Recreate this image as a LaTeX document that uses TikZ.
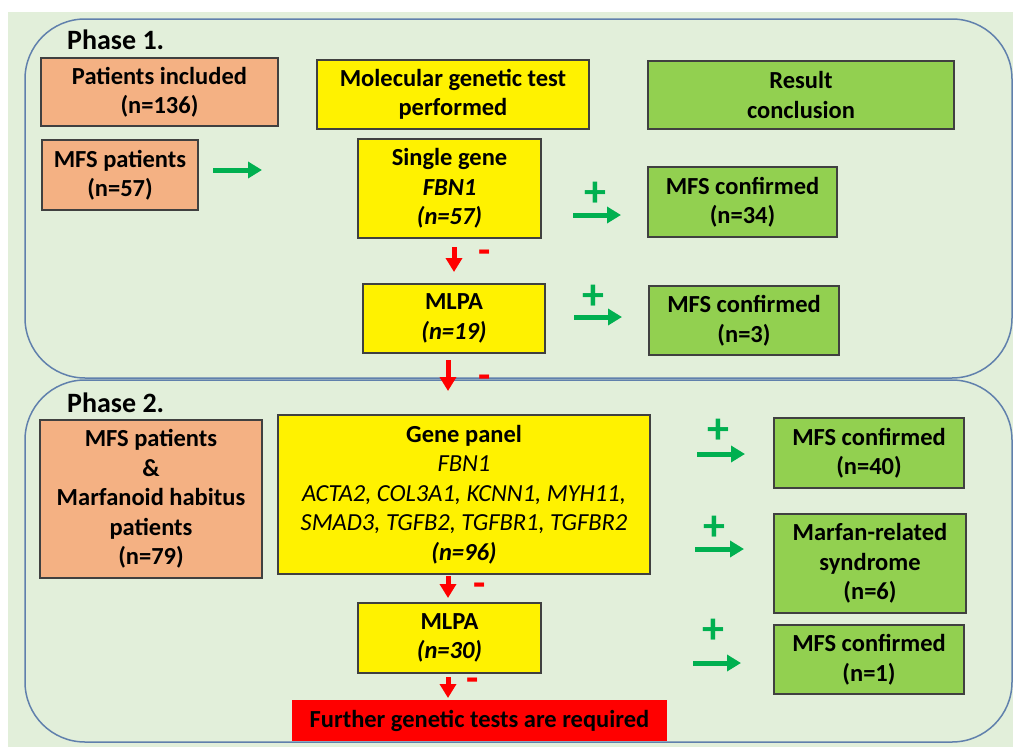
\documentclass[tikz,border=0pt]{standalone}
\usepackage{fontspec}
\setmainfont{Carlito}
\usetikzlibrary{arrows.meta}
\definecolor{panelbg}{RGB}{226,239,218}
\definecolor{phaseline}{RGB}{96,128,172}
\definecolor{salmon}{RGB}{244,177,131}
\definecolor{leaf}{RGB}{146,208,80}
\definecolor{plusgreen}{RGB}{0,176,80}

\begin{document}
\begin{tikzpicture}[x=1pt,y=-1pt,
    box/.style={draw=black!75,line width=1.2pt,align=center,inner sep=0pt,
        font=\fontsize{24.5}{29.5}\selectfont\bfseries},
    patbox/.style={box,fill=salmon},
    testbox/.style={box,fill=yellow},
    resbox/.style={box,fill=leaf},
    phase/.style={phaseline,line width=1.5pt,rounded corners=60pt},
    phaselabel/.style={anchor=base west,inner sep=0pt,font=\fontsize{28}{30}\selectfont\bfseries},
    plusarrow/.style={plusgreen,line width=5pt,-{Triangle[length=14pt,width=16pt]}},
    minusarrow/.style={red,line width=5pt,-{Triangle[length=14pt,width=16pt]}},
    plussign/.style={plusgreen,inner sep=0pt,font=\fontsize{44}{44}\selectfont\bfseries},
    minussign/.style={red,inner sep=0pt,font=\fontsize{40}{40}\selectfont\bfseries}]

    \fill[white] (0,0) rectangle (1013,747);
    \fill[panelbg] (8,12) rectangle (1013,747);
    \useasboundingbox (0,0) rectangle (1013,747);

    \draw[phase] (25,19) rectangle (1012,378);
    \draw[phase] (25,380) rectangle (1012,742);

    % Phase 1
    \node[phaselabel] (ph1) at (67,49) {Phase 1.};
    \node[patbox,minimum width=237pt,minimum height=68pt] (incl) at (159.5,92) {Patients included\\(n=136)};
    \node[patbox,minimum width=156pt,minimum height=70pt] (mfs1) at (120,175) {MFS patients\\(n=57)};
    \node[testbox,minimum width=272pt,minimum height=69pt] (mol) at (453,94.5) {Molecular genetic test\\performed};
    \node[resbox,minimum width=306pt,minimum height=68pt] (res) at (801,95) {Result\\conclusion};
    \node[testbox,minimum width=183pt,minimum height=99pt] (single) at (449.5,188.5) {Single gene\\\textit{FBN1}\\\textit{(n=57)}};
    \node[testbox,minimum width=182pt,minimum height=69pt] (mlpa1) at (454,318.5) {MLPA\\\textit{(n=19)}};
    \node[resbox,minimum width=189pt,minimum height=70pt] (conf34) at (742.5,202) {MFS confirmed\\(n=34)};
    \node[resbox,minimum width=190pt,minimum height=69pt] (conf3) at (744,320.5) {MFS confirmed\\(n=3)};

    \coordinate (g0a) at (213,170);  \coordinate (g0b) at (262,170);
    \coordinate (g1a) at (573,215);  \coordinate (g1b) at (621,215);
    \coordinate (g2a) at (574,317);  \coordinate (g2b) at (622,317);
    \coordinate (r1a) at (454,247);  \coordinate (r1b) at (454,272);
    \coordinate (r2a) at (448,360);  \coordinate (r2b) at (448,391);

    \draw[plusarrow] (g0a) -- (g0b);
    \draw[plusarrow] (g1a) -- (g1b);
    \draw[plusarrow] (g2a) -- (g2b);
    \node[plussign] (p1) at (595,194) {+};
    \node[plussign] (p2) at (593,297) {+};

    \draw[minusarrow] (r1a) -- (r1b);
    \draw[minusarrow] (r2a) -- (r2b);
    \node[minussign] (m1) at (485,257) {-};
    \node[minussign] (m2) at (485,382) {-};

    % Phase 2
    \node[phaselabel] (ph2) at (67,412) {Phase 2.};
    \node[patbox,minimum width=222pt,minimum height=158pt] (mfs2) at (151,499) {MFS patients\\\&\\Marfanoid habitus\\patients\\(n=79)};
    \node[testbox,minimum width=372pt,minimum height=159pt] (panel) at (464,494.5)
    {Gene panel\\{\mdseries\itshape FBN1}\\{\mdseries\itshape ACTA2, COL3A1, KCNN1, MYH11,}\\{\mdseries\itshape SMAD3, TGFB2, TGFBR1, TGFBR2}\\\textit{(n=96)}};
    \node[testbox,minimum width=183pt,minimum height=70pt] (mlpa2) at (449.5,638) {MLPA\\\textit{(n=30)}};
    \node[box,draw=red,fill=red,minimum width=373pt,minimum height=39pt] (further) at (479.5,720.5) {Further genetic tests are required};
    \node[resbox,minimum width=190pt,minimum height=70pt] (conf40) at (869,453) {MFS confirmed\\(n=40)};
    \node[resbox,minimum width=192pt,minimum height=99pt] (related) at (870,563.5) {Marfan-related\\syndrome\\(n=6)};
    \node[resbox,minimum width=190pt,minimum height=69pt] (conf1) at (869,659.5) {MFS confirmed\\(n=1)};

    \coordinate (g3a) at (697,454);  \coordinate (g3b) at (745,454);
    \coordinate (g4a) at (695,549);  \coordinate (g4b) at (744,549);
    \coordinate (g5a) at (693,663);  \coordinate (g5b) at (741,663);
    \coordinate (r3a) at (448,576);  \coordinate (r3b) at (448,598);
    \coordinate (r4a) at (448,677);  \coordinate (r4b) at (448,698);

    \draw[plusarrow] (g3a) -- (g3b);
    \draw[plusarrow] (g4a) -- (g4b);
    \draw[plusarrow] (g5a) -- (g5b);
    \node[plussign] (p3) at (718,431) {+};
    \node[plussign] (p4) at (714,528) {+};
    \node[plussign] (p5) at (713,631) {+};

    \draw[minusarrow] (r3a) -- (r3b);
    \draw[minusarrow] (r4a) -- (r4b);
    \node[minussign] (m3) at (480,590) {-};
    \node[minussign] (m4) at (473,685) {-};
\end{tikzpicture}
\end{document}
